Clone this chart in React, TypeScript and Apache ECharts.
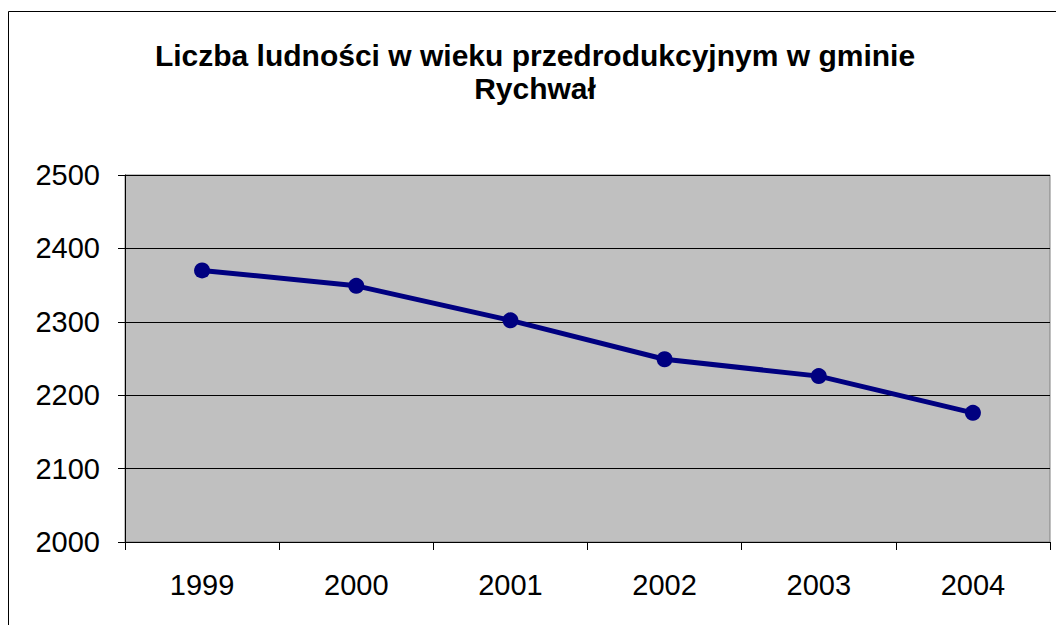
import React, { useEffect, useRef } from "react";
import * as echarts from "echarts";

const titleText = "Liczba ludności w wieku przedrodukcyjnym w gminie\nRychwał";
const years = ["1999", "2000", "2001", "2002", "2003", "2004"];
const values = [2370, 2349, 2302, 2249, 2226, 2176];
const yMin = 2000;
const yMax = 2500;
const yStep = 100;

const FONT = "Liberation Sans, Arial, sans-serif";

export default function App() {
  const ref = useRef<HTMLDivElement>(null);
  useEffect(() => {
    document.body.style.margin = "0";
    const chart = echarts.init(ref.current!, null, { renderer: "svg" });
    chart.setOption({
      animation: false,
      backgroundColor: "#ffffff",
      textStyle: { fontFamily: FONT },
      title: {
        text: titleText,
        left: 530,
        top: 34,
        textAlign: "center",
        textStyle: {
          fontFamily: FONT,
          fontSize: 30,
          fontWeight: "bold",
          color: "#000",
          lineHeight: 33,
        },
      },
      graphic: [
        {
          type: "rect",
          shape: { x: 8.5, y: 11.5, width: 1200, height: 800 },
          style: { fill: "none", stroke: "#000", lineWidth: 1 },
          silent: true,
          z: -1,
        },
      ],
      grid: {
        left: 125,
        top: 175,
        right: 6,
        bottom: 83,
        show: true,
        backgroundColor: "#C0C0C0",
        borderColor: "#808080",
        borderWidth: 1,
      },
      xAxis: {
        type: "category",
        data: years,
        boundaryGap: true,
        axisLine: { show: true, lineStyle: { color: "#000", width: 1 } },
        axisTick: { show: true, length: 8, alignWithLabel: false, lineStyle: { color: "#000" } },
        axisLabel: { fontSize: 29, color: "#000", margin: 28, fontFamily: FONT },
        splitLine: { show: false },
      },
      yAxis: {
        type: "value",
        min: yMin,
        max: yMax,
        interval: yStep,
        axisLine: { show: true, lineStyle: { color: "#000", width: 1 } },
        axisTick: { show: true, length: 7, lineStyle: { color: "#000" } },
        axisLabel: {
          fontSize: 29,
          color: "#000",
          margin: 25,
          fontFamily: FONT,
          formatter: (v: number) => String(v),
        },
        splitLine: { show: true, lineStyle: { color: "#000", width: 1 } },
      },
      series: [
        {
          type: "line",
          data: values,
          symbol: "circle",
          symbolSize: 16,
          lineStyle: { color: "#000080", width: 5 },
          itemStyle: { color: "#000080" },
        },
      ],
    });
    return () => chart.dispose();
  }, []);
  return <div ref={ref} style={{ width: 1056, height: 625 }} />;
}
